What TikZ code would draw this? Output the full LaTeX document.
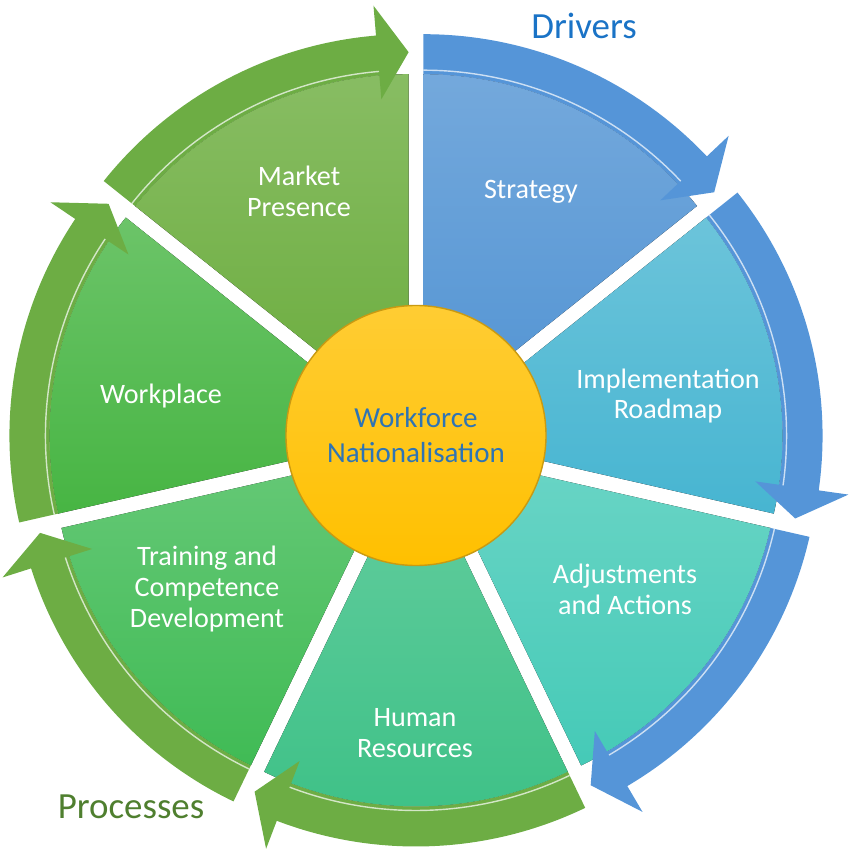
\documentclass[tikz,border=0pt]{standalone}
\usepackage{fontspec}
\setmainfont{Carlito}
\definecolor{cStrategy}{HTML}{5193D3}
\definecolor{cRoadmap}{HTML}{47B5D1}
\definecolor{cAdjust}{HTML}{45CAB7}
\definecolor{cHuman}{HTML}{3EC187}
\definecolor{cTraining}{HTML}{40BB55}
\definecolor{cWorkplace}{HTML}{47B543}
\definecolor{cMarket}{HTML}{6AAC3C}
\definecolor{bandBlue}{HTML}{5595D8}
\definecolor{bandGreen}{HTML}{6DAD44}
\definecolor{hubGold}{HTML}{FFC000}
\definecolor{hubEdge}{HTML}{C99A12}
\definecolor{hubText}{HTML}{2E74B5}
\definecolor{driversBlue}{HTML}{1A73C6}
\definecolor{processesGreen}{HTML}{4F7F2F}

\begin{document}
\begin{tikzpicture}[
  seglabel/.style={text=white, align=center, font=\fontsize{16}{17.6}\selectfont},
  grouplabel/.style={font=\fontsize{21}{24}\selectfont}
]
\useasboundingbox (-8.32,-8.27) rectangle (8.70,8.79);
% Segmentos com setas
\foreach \i/\fc/\bc/\lx/\ly/\txt in {
  0/cStrategy/bandBlue/2.30/4.95/{Strategy},
  1/cRoadmap/bandBlue/5.04/0.87/{Implementation\\Roadmap},
  2/cAdjust/bandBlue/4.18/-2.99/{Adjustments\\and Actions},
  3/cHuman/bandGreen/-0.02/-5.87/{Human\\Resources},
  4/cTraining/bandGreen/-4.18/-2.99/{Training and\\Competence\\Development},
  5/cWorkplace/bandGreen/-5.10/0.87/{Workplace},
  6/cMarket/bandGreen/-2.34/4.97/{Market\\Presence}}
{
  \pgfmathsetmacro\angA{90-51.4286*\i}
  \pgfmathsetmacro\angB{\angA-51.4286}
  \pgfmathsetmacro\angM{\angA-25.7143}
  \pgfmathsetmacro\angH{\angB+4.8}
  \begin{scope}[shift={(\angM:0.34)}]
    \fill[top color=\fc!80!white, bottom color=\fc]
      (0,0) -- (\angA:7.0) arc[start angle=\angA, end angle=\angB, radius=7.0] -- cycle;
    \fill[fill=\bc]
      (\angA:7.8) arc[start angle=\angA, end angle=\angH, radius=7.8]
      -- (\angH:8.4) -- (\angB:7.44) -- (\angH:6.52) -- (\angH:7.0)
      arc[start angle=\angH, end angle=\angA, radius=7.0] -- cycle;
    \draw[white, opacity=0.7, line width=0.8pt]
      (\angA:7.08) arc[start angle=\angA, end angle=\angH, radius=7.08];
  \end{scope}
  \node (lbl\i) at (\lx,\ly) [seglabel] {\txt};
}
% Circulo central
\node (hub) at (0,0.08) [circle, minimum size=5.2cm, inner sep=0pt,
  draw=hubEdge, line width=0.8pt, top color=hubGold!80!white, bottom color=hubGold,
  text=hubText, align=center, font=\fontsize{16.5}{19.9}\selectfont]
  {Workforce\\Nationalisation};
% Grupos
\node (drivers) at (3.36,8.27) [grouplabel, text=driversBlue] {Drivers};
\node (processes) at (-5.70,-7.35) [grouplabel, text=processesGreen] {Processes};
\end{tikzpicture}
\end{document}
